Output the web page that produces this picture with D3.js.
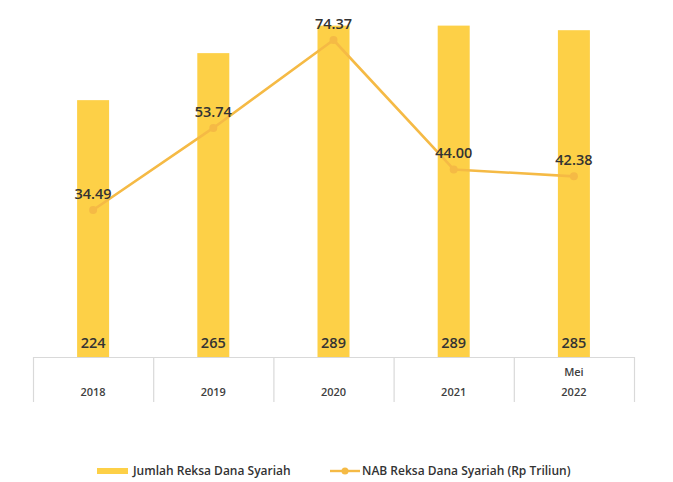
<!DOCTYPE html>
<html>
<head>
<meta charset="utf-8">
<script src="https://cdn.jsdelivr.net/npm/d3@7/dist/d3.min.js"></script>
<style>
  html, body { margin: 0; padding: 0; background: #fff; }
  svg { display: block; font-family: "Open Sans", "Noto Sans", sans-serif; }
</style>
</head>
<body>
<svg id="chart" width="673" height="482"></svg>
<script>
// Jumlah & NAB Reksa Dana Syariah
const years = ["2018", "2019", "2020", "2021", "2022"];
const yearPrefix = ["", "", "", "", "Mei"];
const jumlah = [224, 265, 289, 289, 285];
const nab = [34.49, 53.74, 74.37, 44.00, 42.38];
const nabLabels = ["34.49", "53.74", "74.37", "44.00", "42.38"];

const barColor = "#FDD047";
const lineColor = "#F5BA45";
const textColor = "#333";
const gridColor = "#D9D9D9";

const svg = d3.select("#chart");

const x = d3.scaleBand().domain(years).range([33, 634]).paddingInner(0).paddingOuter(0);
const baseY = 357;
const yBar = d3.scaleLinear().domain([0, 300]).range([baseY, 13]);
const yLine = d3.scaleLinear().domain([0, 80]).range([baseY, 16]);
const barW = 32;
const cx = d => x(d) + x.bandwidth() / 2;

// bars
svg.append("g").selectAll("rect").data(years).join("rect")
  .attr("x", d => cx(d) - barW / 2)
  .attr("y", (d, i) => yBar(jumlah[i]))
  .attr("width", barW)
  .attr("height", (d, i) => baseY - yBar(jumlah[i]))
  .attr("fill", barColor);

// bar value labels (inside bar bottom)
svg.append("g").selectAll("text").data(years).join("text")
  .attr("x", d => cx(d))
  .attr("y", baseY - 9)
  .attr("text-anchor", "middle")
  .attr("font-size", 14.5)
  .attr("font-weight", 600)
  .attr("fill", textColor)
  .text((d, i) => jumlah[i]);

// category table below the plot
const axisG = svg.append("g");
axisG.append("line")
  .attr("x1", x.range()[0]).attr("x2", x.range()[1])
  .attr("y1", baseY + 0.5).attr("y2", baseY + 0.5)
  .attr("stroke", gridColor).attr("stroke-width", 1.2);
const edges = years.map(d => x(d)).concat([x.range()[1]]);
axisG.selectAll("line.div").data(edges).join("line")
  .attr("class", "div")
  .attr("x1", d => d + 0.5).attr("x2", d => d + 0.5)
  .attr("y1", baseY).attr("y2", 402)
  .attr("stroke", gridColor).attr("stroke-width", 1.2);
axisG.selectAll("text.yr").data(years).join("text")
  .attr("class", "yr")
  .attr("x", d => cx(d))
  .attr("y", 396)
  .attr("text-anchor", "middle")
  .attr("font-size", 11)
  .attr("font-weight", 600)
  .attr("fill", "#404040")
  .text(d => d);
axisG.selectAll("text.pre").data(years.filter((d, i) => yearPrefix[i])).join("text")
  .attr("class", "pre")
  .attr("x", d => cx(d))
  .attr("y", 376)
  .attr("text-anchor", "middle")
  .attr("font-size", 11)
  .attr("font-weight", 600)
  .attr("fill", "#404040")
  .text(d => yearPrefix[years.indexOf(d)]);

// NAB line
const line = d3.line()
  .x((d, i) => cx(years[i]))
  .y(d => yLine(d));
svg.append("path")
  .datum(nab)
  .attr("d", line)
  .attr("fill", "none")
  .attr("stroke", lineColor)
  .attr("stroke-width", 2.6)
  .attr("stroke-linejoin", "round");
svg.append("g").selectAll("circle").data(nab).join("circle")
  .attr("cx", (d, i) => cx(years[i]))
  .attr("cy", d => yLine(d))
  .attr("r", 4)
  .attr("fill", lineColor);
svg.append("g").selectAll("text").data(nab).join("text")
  .attr("x", (d, i) => cx(years[i]))
  .attr("y", d => yLine(d) - 11)
  .attr("text-anchor", "middle")
  .attr("font-size", 14.5)
  .attr("font-weight", 600)
  .attr("fill", textColor)
  .text((d, i) => nabLabels[i]);

// legend
const lg = svg.append("g");
lg.append("rect").attr("x", 97).attr("y", 468).attr("width", 31).attr("height", 6).attr("fill", barColor);
lg.append("text").attr("x", 133).attr("y", 475).attr("font-size", 12).attr("font-weight", 600)
  .attr("fill", textColor).text("Jumlah Reksa Dana Syariah");
lg.append("line").attr("x1", 330).attr("x2", 360).attr("y1", 471).attr("y2", 471)
  .attr("stroke", lineColor).attr("stroke-width", 2.4);
lg.append("circle").attr("cx", 345).attr("cy", 471).attr("r", 3.5).attr("fill", lineColor);
lg.append("text").attr("x", 362).attr("y", 475).attr("font-size", 12).attr("font-weight", 600)
  .attr("fill", textColor).text("NAB Reksa Dana Syariah (Rp Triliun)");
</script>
</body>
</html>
